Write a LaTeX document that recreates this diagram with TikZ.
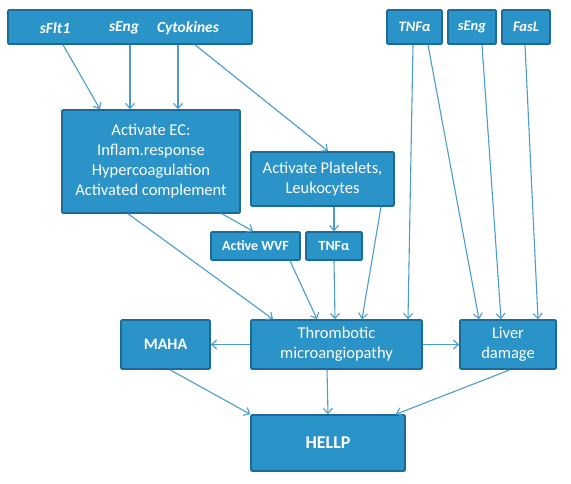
\documentclass[tikz,border=0pt]{standalone}
\usepackage{fontspec}
\setmainfont{Carlito}
\usetikzlibrary{arrows.meta}
\definecolor{boxblue}{HTML}{2A93C8}
\definecolor{edgeblue}{HTML}{1B6A97}
\definecolor{linkblue}{HTML}{4B9CCC}

\begin{document}
\begin{tikzpicture}[x=1pt,y=-1pt, every node/.style={text=white,font=\fontsize{16.5}{20}\selectfont,align=center,inner sep=0pt},
  box/.style={draw=edgeblue,fill=boxblue,line width=1.6pt,rounded corners=1pt}, lab/.style={font=\fontsize{15.5}{18}\selectfont\bfseries\itshape},
  bold/.style={font=\fontsize{15}{18}\selectfont\bfseries}, >={Straight Barb[length=5pt,width=9pt]}, link/.style={->,draw=linkblue,line width=1.1pt}]
\useasboundingbox (0,0) rectangle (571,484);
% inputs
\node[box,minimum width=244pt,minimum height=34pt] (top) at (130,27) {};
\node[lab] (sflt) at (55,28) {sFlt1};\node[lab] (seng) at (124,28) {sEng};\node[lab] (cyto) at (188,28) {Cytokines};
\node[box,lab,font=\fontsize{14.5}{17}\selectfont\bfseries\itshape,minimum width=55pt,minimum height=34pt] (tnfT) at (414.5,27) {TNFα};
\node[box,lab,font=\fontsize{14.5}{17}\selectfont\bfseries\itshape,minimum width=48pt,minimum height=34pt] (sengT) at (472,27) {sEng};
\node[box,lab,font=\fontsize{14.5}{17}\selectfont\bfseries\itshape,minimum width=48pt,minimum height=34pt] (fasl) at (526,27) {FasL};
% activation
\node[box,minimum width=178pt,minimum height=103pt] (ec) at (151,161.5) {Activate EC:\\Inflam.response\\Hypercoagulation\\Activated complement};
\node[box,minimum width=143pt,minimum height=54pt] (plt) at (322.5,179) {Activate Platelets,\\Leukocytes};
\node[box,bold,font=\fontsize{14}{17}\selectfont\bfseries,minimum width=89pt,minimum height=28pt] (wvf) at (255.5,246) {Active WVF};
\node[box,bold,font=\fontsize{14}{17}\selectfont\bfseries,minimum width=56pt,minimum height=28pt] (tnfM) at (334,246) {TNFα};
% outcomes
\node[box,bold,font=\fontsize{16}{20}\selectfont\bfseries,minimum width=89pt,minimum height=49pt] (maha) at (165.5,344.5) {MAHA};
\node[box,minimum width=171pt,minimum height=49pt] (tma) at (336.5,344.5) {Thrombotic\\microangiopathy};
\node[box,minimum width=96pt,minimum height=49pt] (liver) at (508,344.5) {Liver\\damage};
\node[box,bold,font=\fontsize{18}{22}\selectfont\bfseries,minimum width=154pt,minimum height=56pt] (hellp) at (328,443) {HELLP};
\draw[link] (top.south -| 63,0)--(ec.north -| 100,0);\draw[link] (top.south -| 130,0)--(ec.north -| 130,0);\draw[link] (top.south -| 178,0)--(ec.north -| 178,0);
\draw[link] (top.south -| 195,0)--(plt.north -| 328,0);
\draw[link] (ec.south -| 128,0)--(tma.north -| 273,0);\draw[link] (ec.south -| 222,0)--(wvf.north -| 253,0);
\draw[link] (plt.south -| 334,0)--(tnfM.north);\draw[link] (plt.south -| 381,0)--(tma.north -| 362,0);
\draw[link] (wvf.south -| 290,0)--(tma.north -| 317,0);\draw[link] (tnfM.south)--(tma.north -| 335,0);
\draw[link] (tnfT.south -| 413,0)--(tma.north -| 408,0);\draw[link] (tnfT.south -| 428,0)--(liver.north -| 479,0);
\draw[link] (sengT.south -| 482,0)--(liver.north -| 501,0);\draw[link] (fasl.south -| 525,0)--(liver.north -| 538,0);
\draw[link] (tma.west)--(maha.east);\draw[link] (tma.east)--(liver.west);
\draw[link] (maha.south -| 170,0)--(hellp.north west);\draw[link] (tma.south -| 327,0)--(hellp.north -| 328,0);\draw[link] (liver.south -| 510,0)--(hellp.north -| 396,0);
\end{tikzpicture}
\end{document}
